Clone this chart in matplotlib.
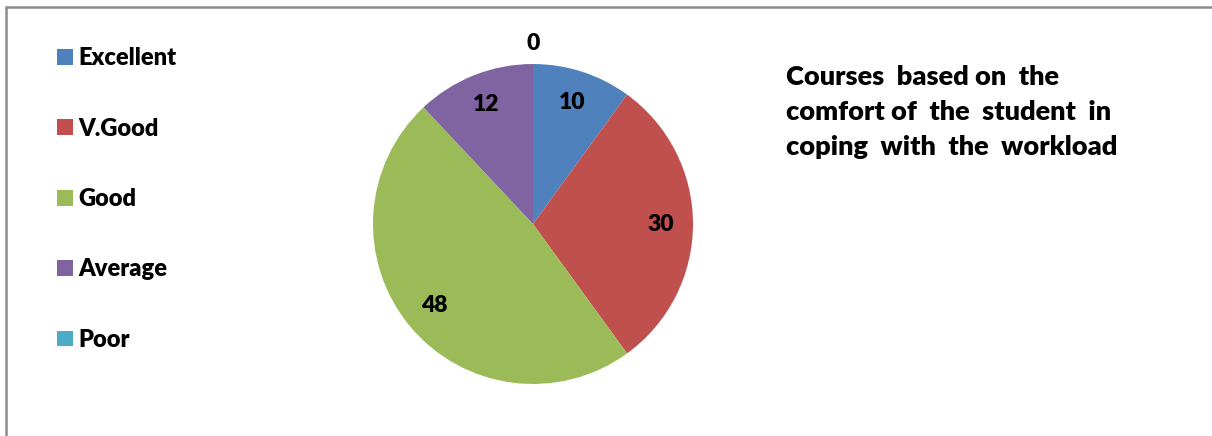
import matplotlib.pyplot as plt
import numpy as np
from matplotlib.patches import Patch, Rectangle

categories = ["Excellent", "V.Good", "Good", "Average", "Poor"]
values = [10, 30, 48, 12, 0]
colors = ["#4F81BD", "#C0504D", "#9BBB59", "#8064A2", "#4BACC6"]
title_lines = [
    "Courses  based on  the",
    "comfort of  the  student  in",
    "coping  with  the  workload",
]

W, H = 1212, 436
plt.rcParams["font.family"] = ["Lato", "DejaVu Sans"]
plt.rcParams["font.weight"] = "heavy"

fig = plt.figure(figsize=(W / 100, H / 100), dpi=100)

# chart area frame (runs off the right and bottom edges)
fig.patches.append(Rectangle((6 / W, -0.1), 1.2, (H - 7) / H + 0.1,
                             transform=fig.transFigure, fill=False,
                             edgecolor="#8c8c8c", linewidth=1.8))

ax = fig.add_axes([373 / W, (H - 384) / H, 320 / W, 320 / H])
wedges, _ = ax.pie(values, colors=colors, startangle=90, counterclock=False,
                   radius=1.0)
ax.set_xlim(-1, 1)
ax.set_ylim(-1, 1)
ax.set_aspect("equal")
ax.axis("off")

# value labels placed on each wedge's mid angle
for w, v in zip(wedges, values):
    mid = np.deg2rad((w.theta1 + w.theta2) / 2)
    r = 0.8 if v > 0 else 1.13
    ax.text(r * np.cos(mid), r * np.sin(mid), str(v), ha="center",
            va="center", fontsize=16.5, fontweight="heavy", clip_on=False)

handles = [Patch(facecolor=c, edgecolor="none") for c in colors]
fig.legend(handles, categories, loc="upper left",
           bbox_to_anchor=(36 / W, 1 - 26 / H), frameon=False,
           prop={"weight": "heavy", "size": 17},
           handlelength=0.65, handleheight=0.65, handletextpad=0.25,
           labelspacing=2.05)

for i, line in enumerate(title_lines):
    fig.text(786 / W, 1 - (77 + 35 * i) / H, line, ha="left", va="center",
             fontsize=19.5, fontweight="heavy")

fig.savefig("out.png", dpi=100)
